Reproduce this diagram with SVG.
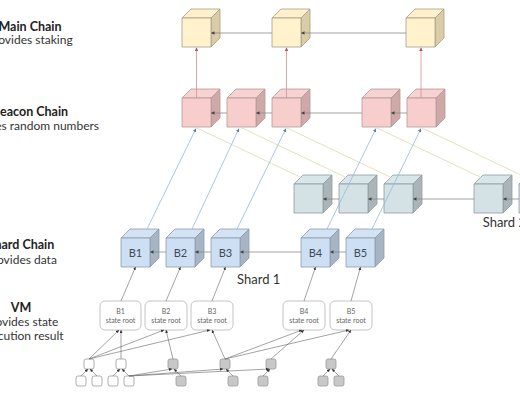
<svg xmlns="http://www.w3.org/2000/svg" width="520" height="400" viewBox="0 0 520 400">
<defs>
<style>
text{font-family:Lato,"Open Sans","Liberation Sans",sans-serif}
.h{font-weight:bold;font-size:12.5px;fill:#222;text-anchor:middle}
.s{font-size:12px;fill:#333;text-anchor:middle}
.lbl{font-size:13px;fill:#333}
.bl{font-size:11px;fill:#3d4a5a;text-anchor:middle}
.sr{font-size:7px;fill:#666;text-anchor:middle}
.cube path,.cube rect{stroke-width:0.8;stroke-linejoin:round}
.mc .f{fill:#fff2cc;stroke:#a69f88}.mc .t{fill:#fdf0cb;stroke:#a69f88}.mc .sd{fill:#d9cca6;stroke:#a69f88}
.bc .f{fill:#f8cecc;stroke:#b39a98}.bc .t{fill:#f6d2d0;stroke:#b39a98}.bc .sd{fill:#cfa9a8;stroke:#b39a98}
.s2 .f{fill:#d4e2e5;stroke:#8f9da0}.s2 .t{fill:#d9e6e9;stroke:#8f9da0}.s2 .sd{fill:#a9b5b8;stroke:#8f9da0}
.s1 .f{fill:#cddff2;stroke:#8d9cad}.s1 .t{fill:#d3e3f4;stroke:#8d9cad}.s1 .sd{fill:#a6b4c4;stroke:#8d9cad}
.box{fill:#fff;stroke:#b5b5b5;stroke-width:0.8}
.sqw{fill:#fff;stroke:#999;stroke-width:0.8}
.sqg{fill:#c8c8c8;stroke:#999;stroke-width:0.8}
.gl{stroke:#8a8a8a;stroke-width:0.8;fill:none;marker-end:url(#ag)}
.rl{stroke:#d98c94;stroke-width:0.8;fill:none;marker-end:url(#ar)}
.bll{stroke:#94b8dc;stroke-width:0.8;fill:none;marker-end:url(#ab)}
.ol{stroke:#dcdab0;stroke-width:0.8;fill:none}
.tl{stroke:#666;stroke-width:0.6;fill:none;marker-end:url(#ad)}
</style>
<marker id="ag" viewBox="0 0 6 6" refX="6" refY="3" markerWidth="3.5" markerHeight="3.5" orient="auto" markerUnits="userSpaceOnUse"><path d="M0,0 L6,3 L0,6 Z" fill="#444"/></marker>
<marker id="ar" viewBox="0 0 6 6" refX="6" refY="3" markerWidth="3.5" markerHeight="3.5" orient="auto" markerUnits="userSpaceOnUse"><path d="M0,0 L6,3 L0,6 Z" fill="#b0505a"/></marker>
<marker id="ab" viewBox="0 0 6 6" refX="6" refY="3" markerWidth="3.5" markerHeight="3.5" orient="auto" markerUnits="userSpaceOnUse"><path d="M0,0 L6,3 L0,6 Z" fill="#5a7fa8"/></marker>
<marker id="ad" viewBox="0 0 6 6" refX="6" refY="3" markerWidth="3" markerHeight="3" orient="auto" markerUnits="userSpaceOnUse"><path d="M0,0 L6,3 L0,6 Z" fill="#333"/></marker>
</defs>
<rect width="520" height="400" fill="#fff"/>

<g id="labels">
<text class="h" x="30" y="30.5">Main Chain</text>
<text class="s" x="30" y="44">provides staking</text>
<text class="h" x="30" y="115.5">Beacon Chain</text>
<text class="s" x="30.5" y="130">provides random numbers</text>
<text class="h" x="21" y="249">Shard Chain</text>
<text class="s" x="21.5" y="264">provides data</text>
<text class="h" x="21" y="311.5">VM</text>
<text class="s" x="21.5" y="326">provides state</text>
<text class="s" x="21.5" y="340">execution result</text>
<text class="lbl" x="237" y="284">Shard 1</text>
<text class="lbl" x="482.7" y="227">Shard 2</text>
</g>

<g id="main1" class="cube mc" transform="translate(182,18)"><path class="t" d="M0,0 L9,-9 L38,-9 L29,0 Z"/><path class="sd" d="M29,0 L38,-9 L38,20 L29,29 Z"/><rect class="f" width="29" height="29"/></g>
<g id="main2" class="cube mc" transform="translate(272,18)"><path class="t" d="M0,0 L9,-9 L38,-9 L29,0 Z"/><path class="sd" d="M29,0 L38,-9 L38,20 L29,29 Z"/><rect class="f" width="29" height="29"/></g>
<g id="main3" class="cube mc" transform="translate(406,18)"><path class="t" d="M0,0 L9,-9 L38,-9 L29,0 Z"/><path class="sd" d="M29,0 L38,-9 L38,20 L29,29 Z"/><rect class="f" width="29" height="29"/></g>

<g id="beacon1" class="cube bc" transform="translate(182,98)"><path class="t" d="M0,0 L9,-9 L38,-9 L29,0 Z"/><path class="sd" d="M29,0 L38,-9 L38,20 L29,29 Z"/><rect class="f" width="29" height="29"/></g>
<g id="beacon2" class="cube bc" transform="translate(227,98)"><path class="t" d="M0,0 L9,-9 L38,-9 L29,0 Z"/><path class="sd" d="M29,0 L38,-9 L38,20 L29,29 Z"/><rect class="f" width="29" height="29"/></g>
<g id="beacon3" class="cube bc" transform="translate(272,98)"><path class="t" d="M0,0 L9,-9 L38,-9 L29,0 Z"/><path class="sd" d="M29,0 L38,-9 L38,20 L29,29 Z"/><rect class="f" width="29" height="29"/></g>
<g id="beacon4" class="cube bc" transform="translate(362,98)"><path class="t" d="M0,0 L9,-9 L38,-9 L29,0 Z"/><path class="sd" d="M29,0 L38,-9 L38,20 L29,29 Z"/><rect class="f" width="29" height="29"/></g>
<g id="beacon5" class="cube bc" transform="translate(407,98)"><path class="t" d="M0,0 L9,-9 L38,-9 L29,0 Z"/><path class="sd" d="M29,0 L38,-9 L38,20 L29,29 Z"/><rect class="f" width="29" height="29"/></g>

<g id="shard2-1" class="cube s2" transform="translate(294,184)"><path class="t" d="M0,0 L9,-9 L38,-9 L29,0 Z"/><path class="sd" d="M29,0 L38,-9 L38,20 L29,29 Z"/><rect class="f" width="29" height="29"/></g>
<g id="shard2-2" class="cube s2" transform="translate(339,184)"><path class="t" d="M0,0 L9,-9 L38,-9 L29,0 Z"/><path class="sd" d="M29,0 L38,-9 L38,20 L29,29 Z"/><rect class="f" width="29" height="29"/></g>
<g id="shard2-3" class="cube s2" transform="translate(384,184)"><path class="t" d="M0,0 L9,-9 L38,-9 L29,0 Z"/><path class="sd" d="M29,0 L38,-9 L38,20 L29,29 Z"/><rect class="f" width="29" height="29"/></g>
<g id="shard2-4" class="cube s2" transform="translate(474,184)"><path class="t" d="M0,0 L9,-9 L38,-9 L29,0 Z"/><path class="sd" d="M29,0 L38,-9 L38,20 L29,29 Z"/><rect class="f" width="29" height="29"/></g>
<g id="shard2-5" class="cube s2" transform="translate(519,184)"><path class="t" d="M0,0 L9,-9 L38,-9 L29,0 Z"/><path class="sd" d="M29,0 L38,-9 L38,20 L29,29 Z"/><rect class="f" width="29" height="29"/></g>

<g id="B1" class="cube s1" transform="translate(121,238)"><path class="t" d="M0,0 L9,-9 L38,-9 L29,0 Z"/><path class="sd" d="M29,0 L38,-9 L38,20 L29,29 Z"/><rect class="f" width="29" height="29"/><text class="bl" x="14.5" y="18.5">B1</text></g>
<g id="B2" class="cube s1" transform="translate(166,238)"><path class="t" d="M0,0 L9,-9 L38,-9 L29,0 Z"/><path class="sd" d="M29,0 L38,-9 L38,20 L29,29 Z"/><rect class="f" width="29" height="29"/><text class="bl" x="14.5" y="18.5">B2</text></g>
<g id="B3" class="cube s1" transform="translate(211,238)"><path class="t" d="M0,0 L9,-9 L38,-9 L29,0 Z"/><path class="sd" d="M29,0 L38,-9 L38,20 L29,29 Z"/><rect class="f" width="29" height="29"/><text class="bl" x="14.5" y="18.5">B3</text></g>
<g id="B4" class="cube s1" transform="translate(301,238)"><path class="t" d="M0,0 L9,-9 L38,-9 L29,0 Z"/><path class="sd" d="M29,0 L38,-9 L38,20 L29,29 Z"/><rect class="f" width="29" height="29"/><text class="bl" x="14.5" y="18.5">B4</text></g>
<g id="B5" class="cube s1" transform="translate(346,238)"><path class="t" d="M0,0 L9,-9 L38,-9 L29,0 Z"/><path class="sd" d="M29,0 L38,-9 L38,20 L29,29 Z"/><rect class="f" width="29" height="29"/><text class="bl" x="14.5" y="18.5">B5</text></g>

<g id="sr1"><rect class="box" x="100" y="301" width="41" height="29" rx="5"/><text class="sr" x="120.5" y="314">B1</text><text class="sr" x="120.5" y="323">state root</text></g>
<g id="sr2"><rect class="box" x="145" y="301" width="42" height="29" rx="5"/><text class="sr" x="166" y="314">B2</text><text class="sr" x="166" y="323">state root</text></g>
<g id="sr3"><rect class="box" x="191" y="301" width="42" height="29" rx="5"/><text class="sr" x="212" y="314">B3</text><text class="sr" x="212" y="323">state root</text></g>
<g id="sr4"><rect class="box" x="283" y="301" width="42" height="29" rx="5"/><text class="sr" x="304" y="314">B4</text><text class="sr" x="304" y="323">state root</text></g>
<g id="sr5"><rect class="box" x="330" y="301" width="42" height="29" rx="5"/><text class="sr" x="351" y="314">B5</text><text class="sr" x="351" y="323">state root</text></g>

<g id="tree-nodes">
<rect class="sqw" x="84" y="359" width="10" height="10" rx="2"/>
<rect class="sqw" x="116" y="359" width="10" height="10" rx="2"/>
<rect class="sqg" x="168" y="359" width="10" height="10" rx="2"/>
<rect class="sqg" x="220" y="359" width="10" height="10" rx="2"/>
<rect class="sqg" x="266" y="359" width="10" height="10" rx="2"/>
<rect class="sqg" x="326" y="359" width="10" height="10" rx="2"/>
<rect class="sqw" x="76" y="376" width="10" height="10" rx="2"/>
<rect class="sqw" x="92" y="376" width="10" height="10" rx="2"/>
<rect class="sqw" x="108" y="376" width="10" height="10" rx="2"/>
<rect class="sqw" x="124" y="376" width="10" height="10" rx="2"/>
<rect class="sqg" x="176" y="376" width="10" height="10" rx="2"/>
<rect class="sqg" x="228" y="376" width="10" height="10" rx="2"/>
<rect class="sqg" x="258" y="376" width="10" height="10" rx="2"/>
<rect class="sqg" x="318" y="376" width="10" height="10" rx="2"/>
<rect class="sqg" x="334" y="376" width="10" height="10" rx="2"/>
</g>

<g id="connectors">
<path class="ol" d="M197,128 L300.7,177.3"/>
<path class="ol" d="M242,128 L345.7,177.3"/>
<path class="ol" d="M287,128 L390.7,177.3"/>
<path class="ol" d="M377,128 L480.7,177.3"/>
<path class="ol" d="M422,128 L525.7,177.3"/>

<path class="gl" d="M272,33 L211,33"/>
<path class="gl" d="M406,33 L301,33"/>
<path class="gl" d="M227,113 L211,113"/>
<path class="gl" d="M272,113 L256,113"/>
<path class="gl" d="M362,113 L301,113"/>
<path class="gl" d="M407,113 L391,113"/>
<path class="gl" d="M339,199 L323,199"/>
<path class="gl" d="M384,199 L368,199"/>
<path class="gl" d="M474,199 L413,199"/>
<path class="gl" d="M519,199 L503,199"/>
<path class="gl" d="M166,252 L150,252"/>
<path class="gl" d="M211,252 L195,252"/>
<path class="gl" d="M301,252 L240,252"/>
<path class="gl" d="M346,252 L330,252"/>

<path class="rl" d="M196.5,98 L196.5,47.5"/>
<path class="rl" d="M286.5,98 L286.5,47.5"/>
<path class="rl" d="M421,98 L421,47.5"/>

<path class="bll" d="M147,229 L196,128.5"/>
<path class="bll" d="M192,229 L239,128.5"/>
<path class="bll" d="M237,229 L286,128.5"/>
<path class="bll" d="M327,229 L376,128.5"/>
<path class="bll" d="M372,229 L421,128.5"/>

<path class="tl" d="M121,301 L135.5,267"/>
<path class="tl" d="M166,301 L180.5,267"/>
<path class="tl" d="M212,301 L225.5,267"/>
<path class="tl" d="M304,301 L315.5,267"/>
<path class="tl" d="M351,301 L360.5,267"/>

<path class="tl" d="M89,359 L119,330"/>
<path class="tl" d="M121,359 L121,330"/>
<path class="tl" d="M89,359 L164,330"/>
<path class="tl" d="M173,359 L166,330"/>
<path class="tl" d="M89,359 L210,330"/>
<path class="tl" d="M225,359 L212,330"/>
<path class="tl" d="M225,359 L302,330"/>
<path class="tl" d="M271,359 L304,330"/>
<path class="tl" d="M225,359 L349,330"/>
<path class="tl" d="M331,359 L351,330"/>

<path class="tl" d="M81,376 L88,369"/>
<path class="tl" d="M97,376 L90,369"/>
<path class="tl" d="M113,376 L120,369"/>
<path class="tl" d="M129,376 L122,369"/>
<path class="tl" d="M181,376 L174,369"/>
<path class="tl" d="M129,376 L172,369"/>
<path class="tl" d="M129,376 L223,369"/>
<path class="tl" d="M129,376 L269,369"/>
<path class="tl" d="M233,376 L226,369"/>
<path class="tl" d="M263,376 L270,369"/>
<path class="tl" d="M323,376 L330,369"/>
<path class="tl" d="M339,376 L332,369"/>
</g>
</svg>
